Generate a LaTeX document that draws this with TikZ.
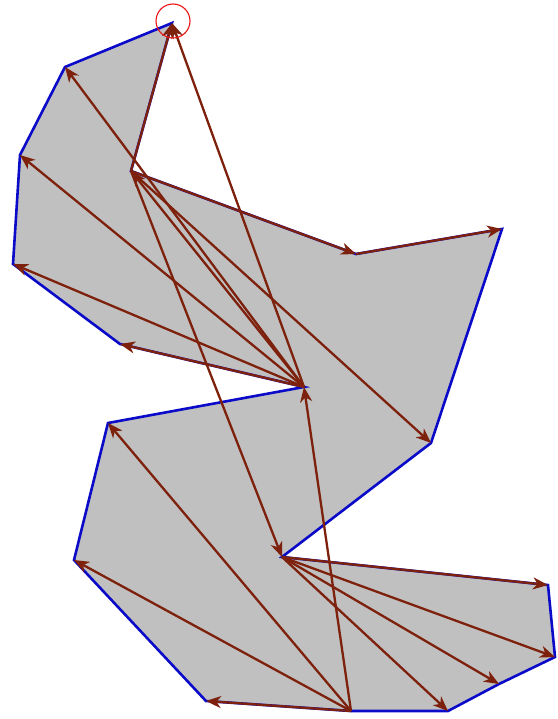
\documentclass[tikz,border=0pt]{standalone}
\usetikzlibrary{arrows.meta}
\definecolor{edgebrown}{RGB}{125,32,12}
\definecolor{polyblue}{RGB}{10,10,200}
\definecolor{polygray}{RGB}{192,192,192}
\definecolor{markred}{RGB}{235,20,20}
\tikzset{
  arr/.style={draw=edgebrown, line width=2.3bp, -{Stealth[length=15bp,width=12bp,inset=4.5bp]}},
  border/.style={draw=polyblue, line width=2.6bp, fill=polygray, line join=miter},
  marker/.style={draw=markred, line width=1.1bp}
}
\begin{document}
\begin{tikzpicture}[x=1bp,y=-1bp]
\useasboundingbox (0,0) rectangle (558,719);
\coordinate (A) at (172,23);
\coordinate (B) at (65,67);
\coordinate (C) at (20,155);
\coordinate (D) at (13,264);
\coordinate (E) at (120,344);
\coordinate (F) at (304,387);
\coordinate (G) at (108,423);
\coordinate (H) at (74,560);
\coordinate (I) at (206,701);
\coordinate (J) at (351,711);
\coordinate (K) at (448,711);
\coordinate (K2) at (499,684);
\coordinate (L) at (555,657);
\coordinate (M) at (548,585);
\coordinate (N) at (282,557);
\coordinate (O) at (431,443);
\coordinate (P) at (502,229);
\coordinate (Q) at (356,254);
\coordinate (R) at (131,171);
\path[border] (A) -- (B) -- (C) -- (D) -- (E) -- (F) -- (G) -- (H) -- (I) -- (J) -- (K) -- (K2) -- (L) -- (M) -- (N) -- (O) -- (P) -- (Q) -- (R) -- cycle;
% fan from F
\draw[arr] (F) -- (A);
\draw[arr] (F) -- (B);
\draw[arr] (F) -- (C);
\draw[arr] (F) -- (D);
\draw[arr] (F) -- (E);
\draw[arr] (F) -- (R);
% fan from R
\draw[arr] (R) -- (A);
\draw[arr] (R) -- (Q);
\draw[arr] (R) -- (O);
\draw[arr] (R) -- (N);
\draw[arr] (Q) -- (P);
% fan from J
\draw[arr] (J) -- (F);
\draw[arr] (J) -- (G);
\draw[arr] (J) -- (H);
\draw[arr] (J) -- (I);
% fan from N
\draw[arr] (N) -- (K);
\draw[arr] (N) -- (K2);
\draw[arr] (N) -- (L);
\draw[arr] (N) -- (M);
\node[marker, circle, minimum size=34bp, inner sep=0pt] (mark) at (173,21) {};
\end{tikzpicture}
\end{document}
